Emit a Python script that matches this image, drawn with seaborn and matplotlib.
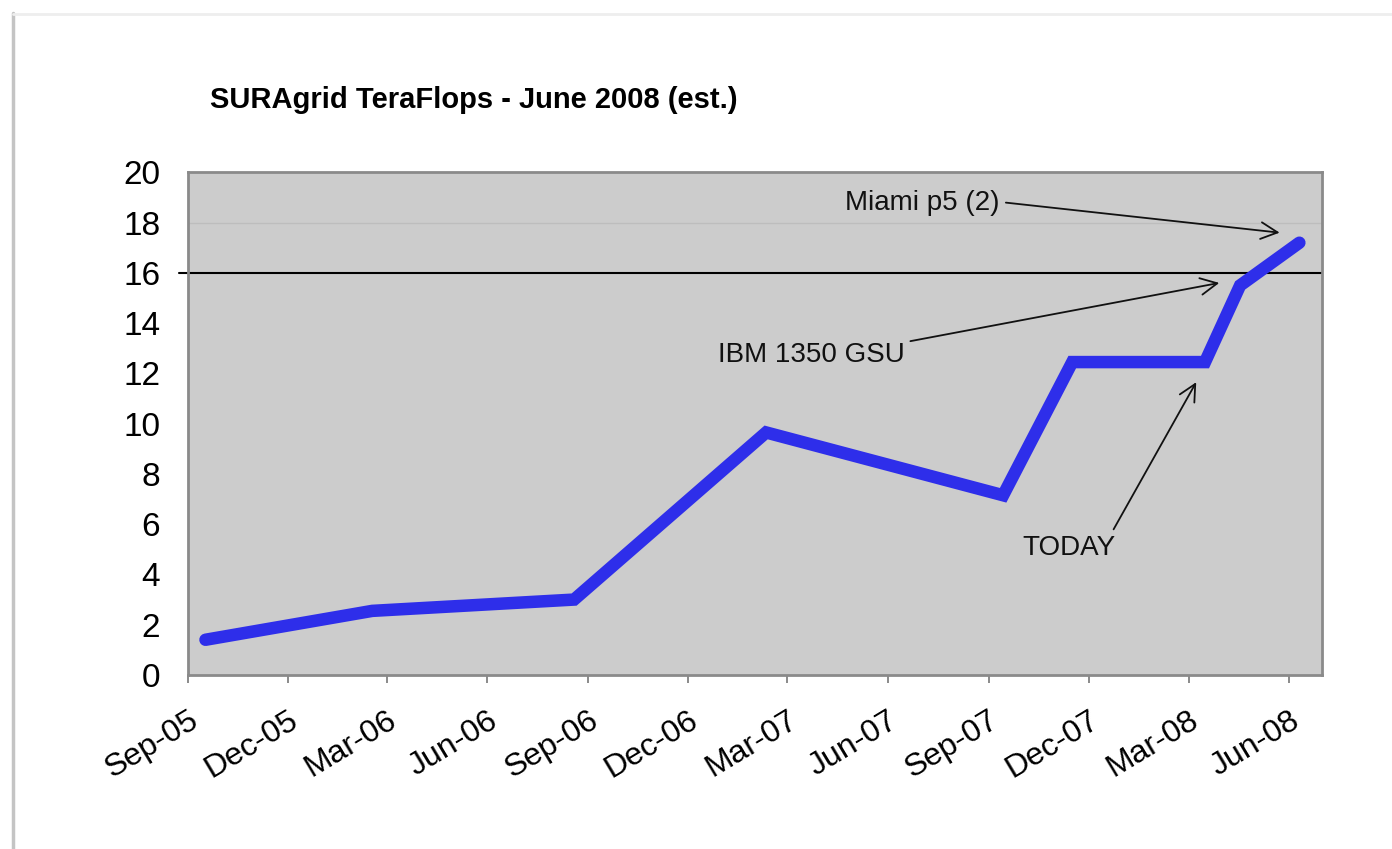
"""
plot.py
SURAgrid TeraFlops 折线图（Excel 风格）
"""

import matplotlib
matplotlib.use('Agg')
import matplotlib.pyplot as plt
import matplotlib.dates as mdates
from matplotlib.lines import Line2D
import pandas as pd
import seaborn as sns

# 数据
DATES = ['2005-09-17', '2006-02-16', '2006-08-19', '2007-02-10', '2007-09-14',
         '2007-11-16', '2008-03-16', '2008-04-17', '2008-06-10']
TFLOPS = [1.4, 2.55, 3.0, 9.65, 7.15, 12.45, 12.45, 15.5, 17.2]

Y_TICKS = [0, 2, 4, 6, 8, 10, 12, 14, 16, 18, 20]
X_START, X_END = '2005-09-01', '2008-07-01'

# 注释：(文本, 文本位置, 箭头位置, 箭头起点相对位置)
NOTES = [
    ('Miami p5 (2)', ('2007-09-11', 18.77), ('2008-05-23', 17.6), (1.0, 0.55)),
    ('IBM 1350 GSU', ('2007-06-16', 12.72), ('2008-03-29', 15.6), (1.0, 1.0)),
    ('TODAY', ('2007-12-25', 5.05), ('2008-03-08', 11.65), (0.95, 1.0)),
]

sns.set_theme(style='white')
plt.rcParams['font.family'] = ['Liberation Sans', 'DejaVu Sans']
plt.rcParams['text.color'] = 'black'
plt.rcParams['xtick.labelcolor'] = 'black'
plt.rcParams['ytick.labelcolor'] = 'black'

df = pd.DataFrame({'date': pd.to_datetime(DATES), 'tflops': TFLOPS})

fig = plt.figure(figsize=(13.92, 8.49), dpi=100)
ax = fig.add_axes([0.135, 0.205, 0.815, 0.592])
ax.set_facecolor('#cccccc')

sns.lineplot(data=df, x='date', y='tflops', ax=ax, color='#2e2eea',
             linewidth=9, zorder=3)
for ln in ax.get_lines():
    ln.set_solid_joinstyle('miter')

ax.set_xlim(pd.Timestamp(X_START), pd.Timestamp(X_END))
ax.set_ylim(0, 20)
ax.set_yticks(Y_TICKS)
ax.set_xlabel('')
ax.set_ylabel('')

# 参考线
ax.axhline(18, color='#bdbdbd', linewidth=1, zorder=1)
ax.axhline(16, xmin=-0.008, color='black', linewidth=1.5, zorder=2,
           clip_on=False)

# 坐标轴
ax.xaxis.set_major_locator(mdates.MonthLocator(bymonth=[3, 6, 9, 12]))
ax.xaxis.set_major_formatter(mdates.DateFormatter('%b-%y'))
ax.tick_params(axis='x', length=6, width=1.2, color='#777777', pad=16,
               labelsize=23, bottom=True, labelcolor='black')
ax.tick_params(axis='y', length=0, pad=20, labelsize=24, labelcolor='black')
for lab in ax.get_xticklabels():
    lab.set_rotation(31)
    lab.set_ha('right')
    lab.set_va('top')
    lab.set_rotation_mode('anchor')
for s in ax.spines.values():
    s.set_color('#8a8a8a')
    s.set_linewidth(2)

# 注释
for text, xytext, xy, rel in NOTES:
    ax.annotate(text, xy=(pd.Timestamp(xy[0]), xy[1]),
                xytext=(pd.Timestamp(xytext[0]), xytext[1]),
                ha='right', va='center', fontsize=20, color='#111111',
                arrowprops=dict(arrowstyle='->', color='#111111', lw=1.3,
                                relpos=rel, shrinkA=2, shrinkB=0,
                                mutation_scale=30))

fig.text(0.151, 0.882, 'SURAgrid TeraFlops - June 2008 (est.)',
         fontsize=21, fontweight='bold', va='center', ha='left',
         color='black')

# 幻灯片边框
fig.add_artist(Line2D([0.009, 0.009], [0.0, 0.985], color='#c4c4c4',
                      linewidth=2.5, transform=fig.transFigure))
fig.add_artist(Line2D([0.009, 1.0], [0.983, 0.983], color='#eeeeee',
                      linewidth=2, transform=fig.transFigure))

plt.savefig('out.png', dpi=100)
